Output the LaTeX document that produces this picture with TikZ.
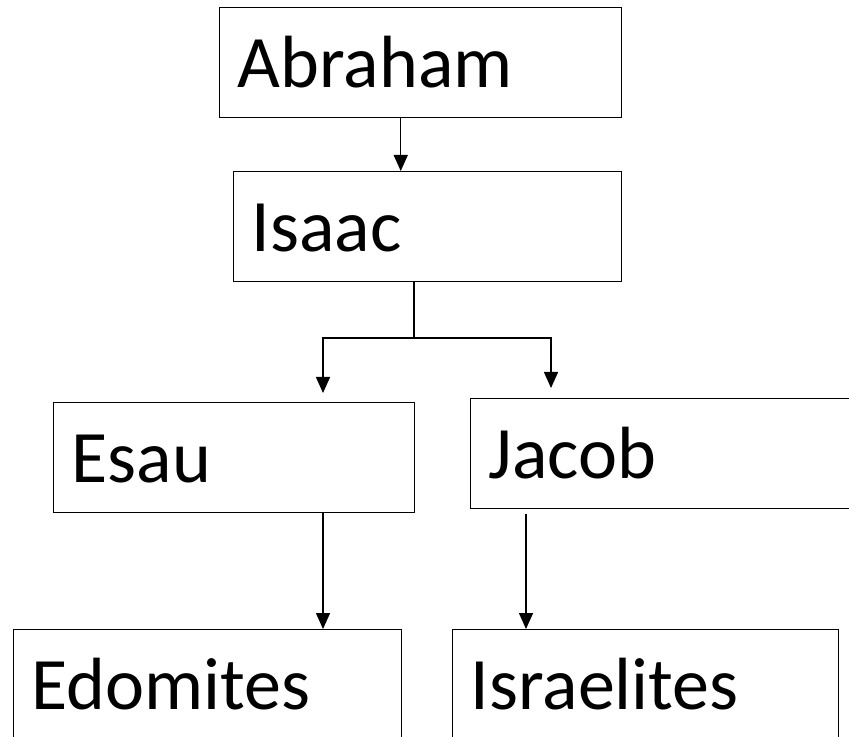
\documentclass[tikz,border=0pt]{standalone}
\usepackage{fontspec}
\setmainfont{Carlito}
\usetikzlibrary{arrows.meta}
\begin{document}
\begin{tikzpicture}[x=0.75pt,y=0.75pt]
      \tikzstyle{famBox}=[draw=black, line width=1.1pt, anchor=north west, minimum height=82.5pt, inner xsep=13.5pt, inner ysep=0pt, text height=37.5pt, text depth=0pt, align=left, font=\fontsize{55.5pt}{60pt}\selectfont]
      \tikzstyle{famArrow}=[black, line width=1.1pt, -{Triangle[width=10.5pt,length=12pt]}]
      \useasboundingbox (0,0) rectangle (849,-737);
      \clip (0,0) rectangle (849,-737);
      \node [famBox, text width=274.5pt] (abraham) at (219,-7) {Abraham};
      \node [famBox, text width=264pt] (isaac) at (233,-171) {Isaac};
      \node [famBox, text width=243.75pt] (esau) at (53,-402) {Esau};
      \node [famBox, text width=280pt] (jacob) at (470,-398) {Jacob};
      \node [famBox, text width=264pt] (edomites) at (13,-629) {Edomites};
      \node [famBox, text width=262.5pt] (israelites) at (452,-629) {Israelites};
      \coordinate (fork) at (414,-338);
      \coordinate (esauIn) at (323,-393);
      \coordinate (jacobIn) at (551,-388);
      \draw [famArrow] ([xshift=-15pt]abraham.south) -- ([xshift=-15pt]abraham.south |- isaac.north);
      \draw [black, line width=1.1pt] (isaac.south -| fork) -- (fork);
      \draw [famArrow] (fork) -| (esauIn);
      \draw [famArrow] (fork) -| (jacobIn);
      \draw [famArrow] (esau.south -| esauIn) -- (edomites.north -| esauIn);
      \draw [famArrow] ([xshift=42pt,yshift=-3.75pt]jacob.south west) -- ([xshift=55.5pt]israelites.north west);
    \end{tikzpicture}
\end{document}
